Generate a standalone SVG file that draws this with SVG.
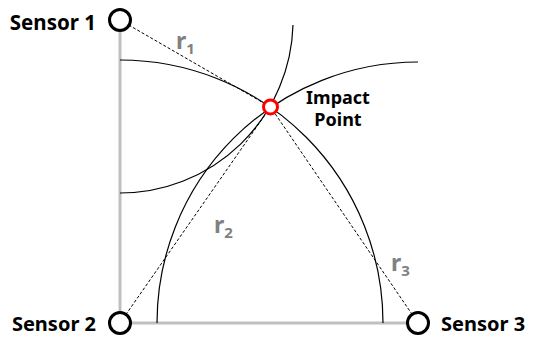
<svg xmlns="http://www.w3.org/2000/svg" width="533" height="337" viewBox="0 0 533 337">
<style>
.axis{stroke:#bfbfbf;stroke-width:3;fill:none}
.arc{stroke:#000;stroke-width:1.2;fill:none}
.dash{stroke:#000;stroke-width:1;stroke-dasharray:3 2;fill:none}
.sensor{fill:#fff;stroke:#000;stroke-width:3}
.impact{fill:#fff;stroke:#ff0000;stroke-width:3}
.lbl{font-family:"Noto Sans","Open Sans",sans-serif;font-weight:bold;fill:#000}
.r{font-family:"Noto Sans","Open Sans",sans-serif;font-weight:bold;fill:#808080}
</style>
<rect width="533" height="337" fill="#fff"/>
<g id="connectors">
<line class="axis" x1="120" y1="20" x2="120" y2="323"/>
<line class="axis" x1="120" y1="323" x2="418" y2="323"/>
<path class="arc" d="M120 193 A173 173 0 0 0 293 25"/>
<path class="arc" d="M120 60 A263 263 0 0 1 383 323"/>
<path class="arc" d="M157 323 A261 261 0 0 1 418 62"/>
<line class="dash" x1="120" y1="20" x2="270.5" y2="107"/>
<line class="dash" x1="120" y1="323" x2="270.5" y2="107"/>
<line class="dash" x1="418" y1="323" x2="270.5" y2="107"/>
</g>
<g id="sensor1">
<circle class="sensor" cx="120" cy="20" r="10.5"/>
<text class="lbl" x="96" y="30" font-size="20.5" text-anchor="end">Sensor 1</text>
</g>
<g id="sensor2">
<circle class="sensor" cx="120" cy="323" r="10.5"/>
<text class="lbl" x="96" y="331" font-size="20" text-anchor="end">Sensor 2</text>
</g>
<g id="sensor3">
<circle class="sensor" cx="418" cy="323" r="10.5"/>
<text class="lbl" x="441" y="331" font-size="20">Sensor 3</text>
</g>
<g id="impact">
<circle class="impact" cx="270.5" cy="107" r="7"/>
<text class="lbl" x="338" y="104" font-size="18" text-anchor="middle">Impact</text>
<text class="lbl" x="338" y="126" font-size="18" text-anchor="middle">Point</text>
</g>
<g id="labels">
<text class="r" x="176" y="49" font-size="23">r<tspan font-size="15" dy="5">1</tspan></text>
<text class="r" x="214" y="233" font-size="23">r<tspan font-size="15" dy="5">2</tspan></text>
<text class="r" x="391" y="271" font-size="23">r<tspan font-size="15" dy="5">3</tspan></text>
</g>
</svg>
